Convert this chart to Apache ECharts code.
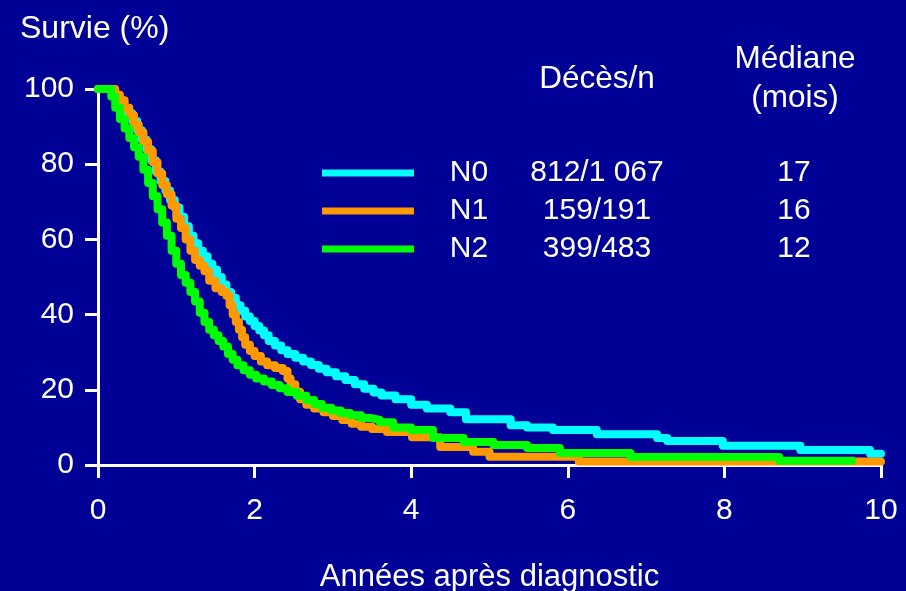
<!DOCTYPE html>
<html>
<head>
<meta charset="utf-8">
<script src="https://cdn.jsdelivr.net/npm/echarts@6/dist/echarts.min.js"></script>
<style>
  html, body { margin: 0; padding: 0; background: #000096; }
  #chart { width: 906px; height: 591px; }
</style>
</head>
<body>
<div id="chart"></div>
<script>
// groupes et tableau de la légende
const groups = ['N0', 'N1', 'N2']
const deaths = ['812/1 067', '159/191', '399/483']
const medians = ['17', '16', '12']

// courbes de survie [années, %]
const survN0 = [[0,100],[0.14,100],[0.2,98.5],[0.26,97],[0.32,95],[0.38,93.5],[0.44,91.5],[0.5,89],[0.56,86.5],[0.62,84],[0.68,81],[0.74,78],[0.8,75.5],[0.86,73],[0.92,70.5],[0.98,68.5],[1.04,66],[1.1,63.5],[1.16,61],[1.22,59],[1.28,57],[1.34,55.5],[1.4,53.5],[1.46,52],[1.52,50],[1.58,48],[1.64,46],[1.7,44.5],[1.76,42.5],[1.82,41],[1.88,39.5],[1.94,38.3],[2.0,37],[2.06,35.8],[2.12,34.5],[2.18,33],[2.26,31.8],[2.34,30.5],[2.42,29.5],[2.52,28.5],[2.62,27.5],[2.72,26.6],[2.82,25.6],[2.92,24.7],[3.04,23.6],[3.16,22.6],[3.28,21.5],[3.4,20.3],[3.52,19.3],[3.62,18.5],[3.8,17.5],[4.0,16],[4.2,15],[4.5,14],[4.7,12.2],[5.27,10.6],[5.48,10],[5.81,9.3],[6.37,8.2],[7.14,7.2],[7.27,6.4],[7.98,5.1],[8.97,4],[9.86,3],[10,3]]
const survN1 = [[0,100],[0.17,100],[0.22,98.5],[0.28,97],[0.34,95],[0.4,93],[0.46,90.5],[0.52,88.5],[0.58,86],[0.64,83.5],[0.7,80.5],[0.76,77.5],[0.82,74.5],[0.88,72],[0.94,69],[1.0,65.5],[1.06,63],[1.12,60],[1.18,57],[1.24,54.5],[1.3,53],[1.36,51.5],[1.42,49],[1.5,47],[1.58,46],[1.64,45],[1.68,42.5],[1.72,40],[1.76,38],[1.8,36],[1.84,34],[1.88,32],[1.94,30.3],[2.0,29],[2.08,27.5],[2.16,26.5],[2.26,25.8],[2.36,25],[2.42,23],[2.46,21.5],[2.52,19.5],[2.58,17.5],[2.66,16],[2.76,15],[2.88,14],[3.0,13],[3.12,12],[3.24,11],[3.36,10.2],[3.5,9.6],[3.69,8.8],[4.01,7.4],[4.37,4.8],[4.79,3.5],[5.0,2.2],[6.14,0.9],[10,0.9]]
const survN2 = [[0,100],[0.12,100],[0.17,98],[0.22,95],[0.28,92],[0.34,89.5],[0.4,87],[0.46,84.5],[0.52,82],[0.58,78.5],[0.64,75],[0.7,71.5],[0.76,68],[0.82,64.5],[0.88,61],[0.94,57],[1.0,53.5],[1.06,50.5],[1.12,48.5],[1.18,46],[1.24,43.5],[1.3,40.5],[1.36,38],[1.42,36],[1.48,34.5],[1.54,33],[1.6,31.5],[1.66,29.5],[1.72,28],[1.78,26.5],[1.86,25.2],[1.94,24],[2.02,23],[2.12,22.2],[2.22,21.3],[2.32,20.4],[2.42,19.4],[2.54,18.4],[2.66,17.3],[2.76,16.2],[2.86,15.2],[2.98,14.5],[3.1,13.8],[3.22,13.2],[3.36,12.5],[3.48,12],[3.6,11.4],[3.77,10],[4.0,9.3],[4.28,7.2],[4.67,6.1],[5.05,5.3],[5.48,4.5],[5.9,3.2],[6.8,2.1],[8.7,1.1],[9.63,1.1]]

const colors = ['#00ffff', '#ff9900', '#00ff00']
const font = '"Liberation Sans", Arial, sans-serif'

const chart = echarts.init(document.getElementById('chart'))

const lineSeries = (name, data, color) => ({
  name: name,
  type: 'line',
  step: 'end',
  showSymbol: false,
  symbol: 'none',
  data: data,
  color: color,
  lineStyle: { width: 8, color: color, cap: 'round', join: 'round' }
})

const option = {
  backgroundColor: '#000096',
  animation: false,
  textStyle: { fontFamily: font },
  grid: {
    left: 98,
    right: 25,
    top: 89,
    bottom: 126,
    outerBoundsMode: 'none'
  },
  xAxis: {
    type: 'value',
    min: 0,
    max: 10,
    interval: 2,
    name: 'Années après diagnostic',
    nameLocation: 'middle',
    nameGap: 97,
    nameTextStyle: { color: '#fff', fontSize: 31, fontFamily: font },
    axisLine: { lineStyle: { color: '#fff', width: 3 } },
    axisTick: { length: 13, lineStyle: { color: '#fff', width: 3 } },
    axisLabel: { color: '#fff', fontSize: 30, margin: 31, fontFamily: font },
    splitLine: { show: false }
  },
  yAxis: {
    type: 'value',
    min: 0,
    max: 100,
    interval: 20,
    axisLine: { show: true, lineStyle: { color: '#fff', width: 3 } },
    axisTick: { show: true, length: 13, lineStyle: { color: '#fff', width: 3 } },
    axisLabel: { color: '#fff', fontSize: 30, margin: 24, fontFamily: font },
    splitLine: { show: false }
  },
  legend: {
    data: groups,
    orient: 'vertical',
    left: 322,
    top: 158,
    padding: 0,
    icon: 'rect',
    itemWidth: 92,
    itemHeight: 7,
    itemGap: 8,
    selectedMode: false,
    formatter: (name) => {
      const i = groups.indexOf(name)
      return '{a|' + name + '}{b|' + deaths[i] + '}{c|' + medians[i] + '}'
    },
    textStyle: {
      color: '#fff',
      fontSize: 30,
      fontFamily: font,
      rich: {
        a: { width: 100, align: 'center', color: '#fff', fontSize: 30, fontFamily: font, lineHeight: 31 },
        b: { width: 156, align: 'center', color: '#fff', fontSize: 30, fontFamily: font, lineHeight: 31 },
        c: { width: 238, align: 'center', color: '#fff', fontSize: 30, fontFamily: font, lineHeight: 31 }
      }
    }
  },
  graphic: [
    { type: 'text', left: 20, top: 13, style: { text: 'Survie (%)', fill: '#fff', font: '32px ' + font } },
    { type: 'text', x: 597, y: 79, style: { text: 'Décès/n', fill: '#fff', font: '31.5px ' + font, align: 'center', verticalAlign: 'middle' } },
    { type: 'text', x: 795, y: 59, style: { text: 'Médiane', fill: '#fff', font: '31.5px ' + font, align: 'center', verticalAlign: 'middle' } },
    { type: 'text', x: 795, y: 98, style: { text: '(mois)', fill: '#fff', font: '31.5px ' + font, align: 'center', verticalAlign: 'middle' } }
  ],
  series: [
    lineSeries(groups[0], survN0, colors[0]),
    lineSeries(groups[1], survN1, colors[1]),
    lineSeries(groups[2], survN2, colors[2])
  ]
}
chart.setOption(option)
</script>
</body>
</html>
